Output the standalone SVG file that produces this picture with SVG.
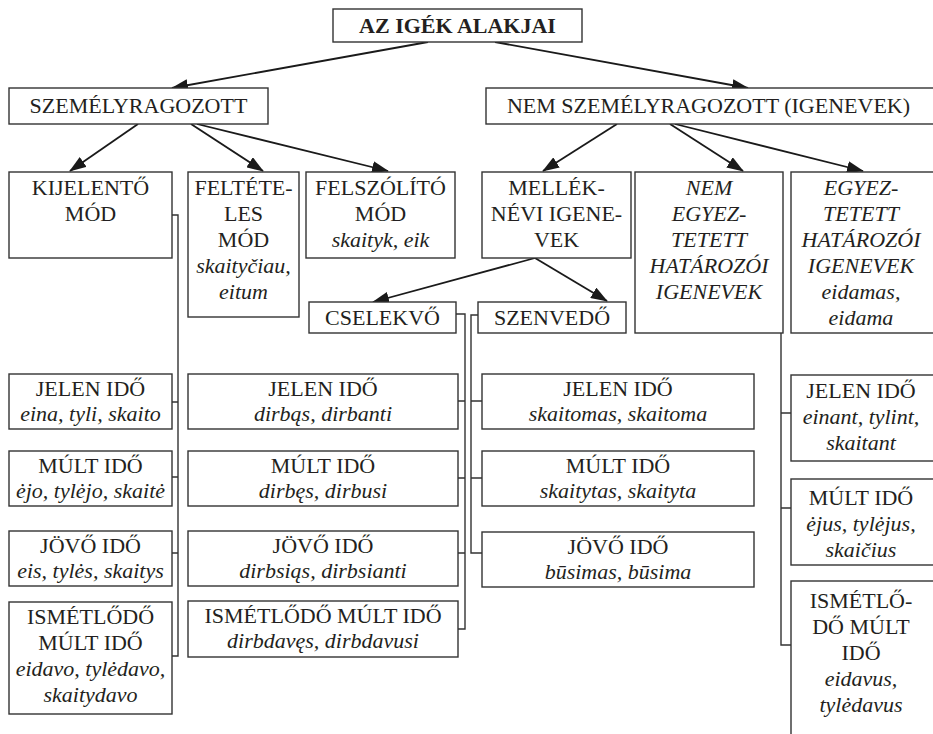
<svg xmlns="http://www.w3.org/2000/svg" width="933" height="734" viewBox="0 0 933 734" font-family="Liberation Serif, DejaVu Serif, serif">
<style>
.box{fill:#fff;stroke:#333;stroke-width:1.4}
.t{font-family:'Liberation Serif','DejaVu Serif',serif;font-size:22px;fill:#231f20;text-anchor:middle}
.i{font-style:italic}
.b{font-weight:bold}
.arr{fill:none;stroke:#1a1a1a;stroke-width:1.8;marker-end:url(#ah)}
.ln{fill:none;stroke:#333;stroke-width:1.4}
</style>
<defs>
<marker id="ah" markerUnits="userSpaceOnUse" markerWidth="17" markerHeight="12" refX="16" refY="6" orient="auto">
<path d="M0,0 L17,6 L0,12 z" fill="#1a1a1a"/>
</marker>
</defs>
<rect width="933" height="734" fill="#fff"/>
<g id="connectors">
<line class="arr" x1="428" y1="42" x2="172" y2="88"/>
<line class="arr" x1="495" y1="42" x2="748" y2="88"/>
<line class="arr" x1="138" y1="124" x2="70" y2="171"/>
<line class="arr" x1="191" y1="124" x2="263" y2="171"/>
<line class="arr" x1="197" y1="124" x2="388" y2="171"/>
<line class="arr" x1="617" y1="124" x2="543" y2="171"/>
<line class="arr" x1="670" y1="124" x2="743" y2="171"/>
<line class="arr" x1="675" y1="124" x2="863" y2="171"/>
<line class="arr" x1="535" y1="258" x2="373" y2="302"/>
<line class="arr" x1="535" y1="258" x2="607" y2="301"/>
<path class="ln" d="M172,215 H178 V656 H172 M172,402 H178 M172,477 H178 M172,553 H178"/>
<path class="ln" d="M456,314 H465 V629 H458 M458,401 H465 M458,478 H465 M458,553 H465"/>
<path class="ln" d="M478,315 H471 V553 H482 M471,401 H482 M471,478 H482"/>
<path class="ln" d="M781,313 V645 H791 M781,413 H791 M781,508 H791"/>
</g>
<g id="root"><rect class="box" x="333" y="9" width="249" height="33"/><text class="t b" x="457.5" y="33">AZ IGÉK ALAKJAI</text></g>
<g id="szemely"><rect class="box" x="9" y="88" width="259" height="36"/><text class="t" x="138.5" y="113">SZEMÉLYRAGOZOTT</text></g>
<g id="nemszemely"><rect class="box" x="486" y="88" width="460" height="36"/><text class="t" x="708.5" y="113">NEM SZEMÉLYRAGOZOTT (IGENEVEK)</text></g>
<g id="kijelento"><rect class="box" x="9" y="172" width="163" height="86"/><text class="t" x="90.5" y="195">KIJELENTŐ</text><text class="t" x="90.5" y="221">MÓD</text></g>
<g id="feltetel"><rect class="box" x="188" y="172" width="111" height="145"/><text class="t" x="243.5" y="195">FELTÉTE-</text><text class="t" x="243.5" y="221">LES</text><text class="t" x="243.5" y="247">MÓD</text><text class="t i" x="243.5" y="273">skaityčiau,</text><text class="t i" x="243.5" y="299">eitum</text></g>
<g id="felszolito"><rect class="box" x="306" y="172" width="149" height="86"/><text class="t" x="380.5" y="195">FELSZÓLÍTÓ</text><text class="t" x="380.5" y="221">MÓD</text><text class="t i" x="380.5" y="247">skaityk, eik</text></g>
<g id="mellek"><rect class="box" x="482" y="172" width="149" height="86"/><text class="t" x="556.5" y="195">MELLÉK-</text><text class="t" x="556.5" y="221">NÉVI IGENE-</text><text class="t" x="556.5" y="247">VEK</text></g>
<g id="nemegyez"><rect class="box" x="635" y="172" width="148" height="161"/><text class="t i" x="709" y="195">NEM</text><text class="t i" x="709" y="221">EGYEZ-</text><text class="t i" x="709" y="247">TETETT</text><text class="t i" x="709" y="273">HATÁROZÓI</text><text class="t i" x="709" y="299">IGENEVEK</text></g>
<g id="egyez"><rect class="box" x="791" y="172" width="160" height="161"/><text class="t i" x="861" y="195">EGYEZ-</text><text class="t i" x="861" y="221">TETETT</text><text class="t i" x="861" y="247">HATÁROZÓI</text><text class="t i" x="861" y="273">IGENEVEK</text><text class="t i" x="861" y="299">eidamas,</text><text class="t i" x="861" y="325">eidama</text></g>
<g id="cselekvo"><rect class="box" x="309" y="302" width="147" height="31"/><text class="t" x="382.5" y="325">CSELEKVŐ</text></g>
<g id="szenvedo"><rect class="box" x="478" y="302" width="148" height="31"/><text class="t" x="552" y="325">SZENVEDŐ</text></g>
<g id="k-jelen"><rect class="box" x="9" y="374" width="163" height="55"/><text class="t" x="90.5" y="396">JELEN IDŐ</text><text class="t i" x="90.5" y="421">eina, tyli, skaito</text></g>
<g id="k-mult"><rect class="box" x="9" y="451" width="163" height="55"/><text class="t" x="90.5" y="473">MÚLT IDŐ</text><text class="t i" x="90.5" y="498">ėjo, tylėjo, skaitė</text></g>
<g id="k-jovo"><rect class="box" x="9" y="531" width="163" height="55"/><text class="t" x="90.5" y="553">JÖVŐ IDŐ</text><text class="t i" x="90.5" y="578">eis, tylės, skaitys</text></g>
<g id="k-ism"><rect class="box" x="9" y="602" width="163" height="112"/><text class="t" x="90.5" y="624">ISMÉTLŐDŐ</text><text class="t" x="90.5" y="650">MÚLT IDŐ</text><text class="t i" x="90.5" y="676">eidavo, tylėdavo,</text><text class="t i" x="90.5" y="702">skaitydavo</text></g>
<g id="c-jelen"><rect class="box" x="188" y="374" width="270" height="55"/><text class="t" x="323" y="396">JELEN IDŐ</text><text class="t i" x="323" y="421">dirbąs, dirbanti</text></g>
<g id="c-mult"><rect class="box" x="188" y="451" width="270" height="55"/><text class="t" x="323" y="473">MÚLT IDŐ</text><text class="t i" x="323" y="498">dirbęs, dirbusi</text></g>
<g id="c-jovo"><rect class="box" x="188" y="531" width="270" height="55"/><text class="t" x="323" y="553">JÖVŐ IDŐ</text><text class="t i" x="323" y="578">dirbsiąs, dirbsianti</text></g>
<g id="c-ism"><rect class="box" x="188" y="601" width="270" height="56"/><text class="t" x="323" y="623">ISMÉTLŐDŐ MÚLT IDŐ</text><text class="t i" x="323" y="648">dirbdavęs, dirbdavusi</text></g>
<g id="s-jelen"><rect class="box" x="482" y="374" width="272" height="55"/><text class="t" x="618" y="396">JELEN IDŐ</text><text class="t i" x="618" y="421">skaitomas, skaitoma</text></g>
<g id="s-mult"><rect class="box" x="482" y="451" width="272" height="55"/><text class="t" x="618" y="473">MÚLT IDŐ</text><text class="t i" x="618" y="498">skaitytas, skaityta</text></g>
<g id="s-jovo"><rect class="box" x="482" y="532" width="272" height="55"/><text class="t" x="618" y="554">JÖVŐ IDŐ</text><text class="t i" x="618" y="579">būsimas, būsima</text></g>
<g id="h-jelen"><rect class="box" x="791" y="375" width="160" height="86"/><text class="t" x="861" y="398">JELEN IDŐ</text><text class="t i" x="861" y="424">einant, tylint,</text><text class="t i" x="861" y="450">skaitant</text></g>
<g id="h-mult"><rect class="box" x="791" y="479" width="160" height="86"/><text class="t" x="861" y="505">MÚLT IDŐ</text><text class="t i" x="861" y="531">ėjus, tylėjus,</text><text class="t i" x="861" y="557">skaičius</text></g>
<g id="h-ism"><rect class="box" x="791" y="581" width="160" height="180"/><text class="t" x="861" y="608">ISMÉTLŐ-</text><text class="t" x="861" y="634">DŐ MÚLT</text><text class="t" x="861" y="660">IDŐ</text><text class="t i" x="861" y="686">eidavus,</text><text class="t i" x="861" y="712">tylėdavus</text></g>
</svg>
